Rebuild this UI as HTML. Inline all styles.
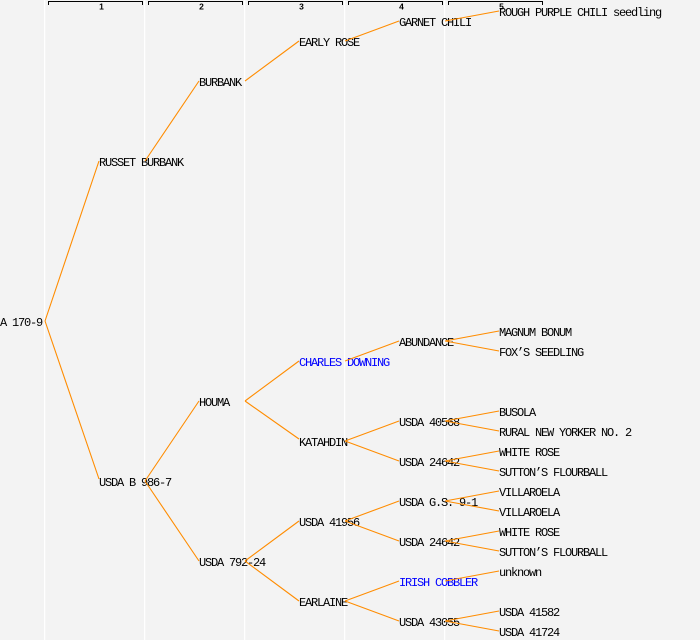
<!DOCTYPE html>
<html><head><meta charset="utf-8"><style>
html,body{margin:0;padding:0;background:#f3f3f3;}
svg{display:block;}
text{font-family:"Liberation Mono",monospace;font-size:12px;letter-spacing:-1.2px;fill:#000;}
text.b{fill:#0000ff;}
text.h{font-family:"Liberation Sans",sans-serif;font-size:8.5px;font-weight:bold;letter-spacing:0;text-anchor:middle;}
</style></head><body>
<svg width="700" height="640" viewBox="0 0 700 640" xmlns="http://www.w3.org/2000/svg">
<rect x="0" y="0" width="700" height="640" fill="#f3f3f3"/>
<g fill="#ffffff">
<rect x="44" y="0" width="1.3" height="640"/>
<rect x="144" y="0" width="1.3" height="640"/>
<rect x="244" y="0" width="1.3" height="640"/>
<rect x="344" y="0" width="1.3" height="640"/>
<rect x="444" y="0" width="1.3" height="640"/>
</g>
<g stroke="#000" stroke-width="1" fill="none" shape-rendering="crispEdges">
<path d="M48.5 5V1.5H142.5V5"/>
<path d="M148.5 5V1.5H242.5V5"/>
<path d="M248.5 5V1.5H342.5V5"/>
<path d="M348.5 5V1.5H442.5V5"/>
<path d="M448.5 5V1.5H542.5V5"/>
</g>
<text class="h" x="101.5" y="9.5">1</text>
<text class="h" x="201.5" y="9.5">2</text>
<text class="h" x="301.5" y="9.5">3</text>
<text class="h" x="401.5" y="9.5">4</text>
<text class="h" x="501.5" y="9.5">5</text>

<g>
<text x="0" y="326">A 170-9</text>
<text x="99" y="166">RUSSET BURBANK</text>
<text x="199" y="86">BURBANK</text>
<text x="299" y="46">EARLY ROSE</text>
<text x="399" y="26">GARNET CHILI</text>
<text x="499" y="16">ROUGH PURPLE CHILI seedling</text>
<text x="99" y="486">USDA B 986-7</text>
<text x="199" y="406">HOUMA</text>
<text class="b" x="299" y="366">CHARLES DOWNING</text>
<text x="399" y="346">ABUNDANCE</text>
<text x="499" y="336">MAGNUM BONUM</text>
<text x="499" y="356">FOX’S SEEDLING</text>
<text x="299" y="446">KATAHDIN</text>
<text x="399" y="426">USDA 40568</text>
<text x="499" y="416">BUSOLA</text>
<text x="499" y="436">RURAL NEW YORKER NO. 2</text>
<text x="399" y="466">USDA 24642</text>
<text x="499" y="456">WHITE ROSE</text>
<text x="499" y="476">SUTTON’S FLOURBALL</text>
<text x="199" y="566">USDA 792-24</text>
<text x="299" y="526">USDA 41956</text>
<text x="399" y="506">USDA G.S. 9-1</text>
<text x="499" y="496">VILLAROELA</text>
<text x="499" y="516">VILLAROELA</text>
<text x="399" y="546">USDA 24642</text>
<text x="499" y="536">WHITE ROSE</text>
<text x="499" y="556">SUTTON’S FLOURBALL</text>
<text x="299" y="606">EARLAINE</text>
<text class="b" x="399" y="586">IRISH COBBLER</text>
<text x="499" y="576">unknown</text>
<text x="399" y="626">USDA 43055</text>
<text x="499" y="616">USDA 41582</text>
<text x="499" y="636">USDA 41724</text>
</g>

<g stroke="#ff8c00" stroke-width="1.1" fill="none">
<path d="M45 321L99 161M45 321L99 479"/>
<path d="M145 161L199 81"/>
<path d="M245 81L299 41"/>
<path d="M345 41L399 21"/>
<path d="M445 21L499 11"/>
<path d="M145 481L199 401M145 481L199 561"/>
<path d="M245 401L299 361M245 401L299 439"/>
<path d="M345 361L399 341"/>
<path d="M445 341L499 331M445 341L499 351"/>
<path d="M345 441L399 421M345 441L399 461"/>
<path d="M445 421L499 411M445 421L499 431"/>
<path d="M445 461L499 451M445 461L499 471"/>
<path d="M245 561L299 521M245 561L299 601"/>
<path d="M345 521L399 501M345 521L399 541"/>
<path d="M445 501L499 491M445 501L499 511"/>
<path d="M445 541L499 531M445 541L499 551"/>
<path d="M345 601L399 581M345 601L399 621"/>
<path d="M445 581L499 571"/>
<path d="M445 621L499 611M445 621L499 631"/>
</g>
</svg>
</body></html>
